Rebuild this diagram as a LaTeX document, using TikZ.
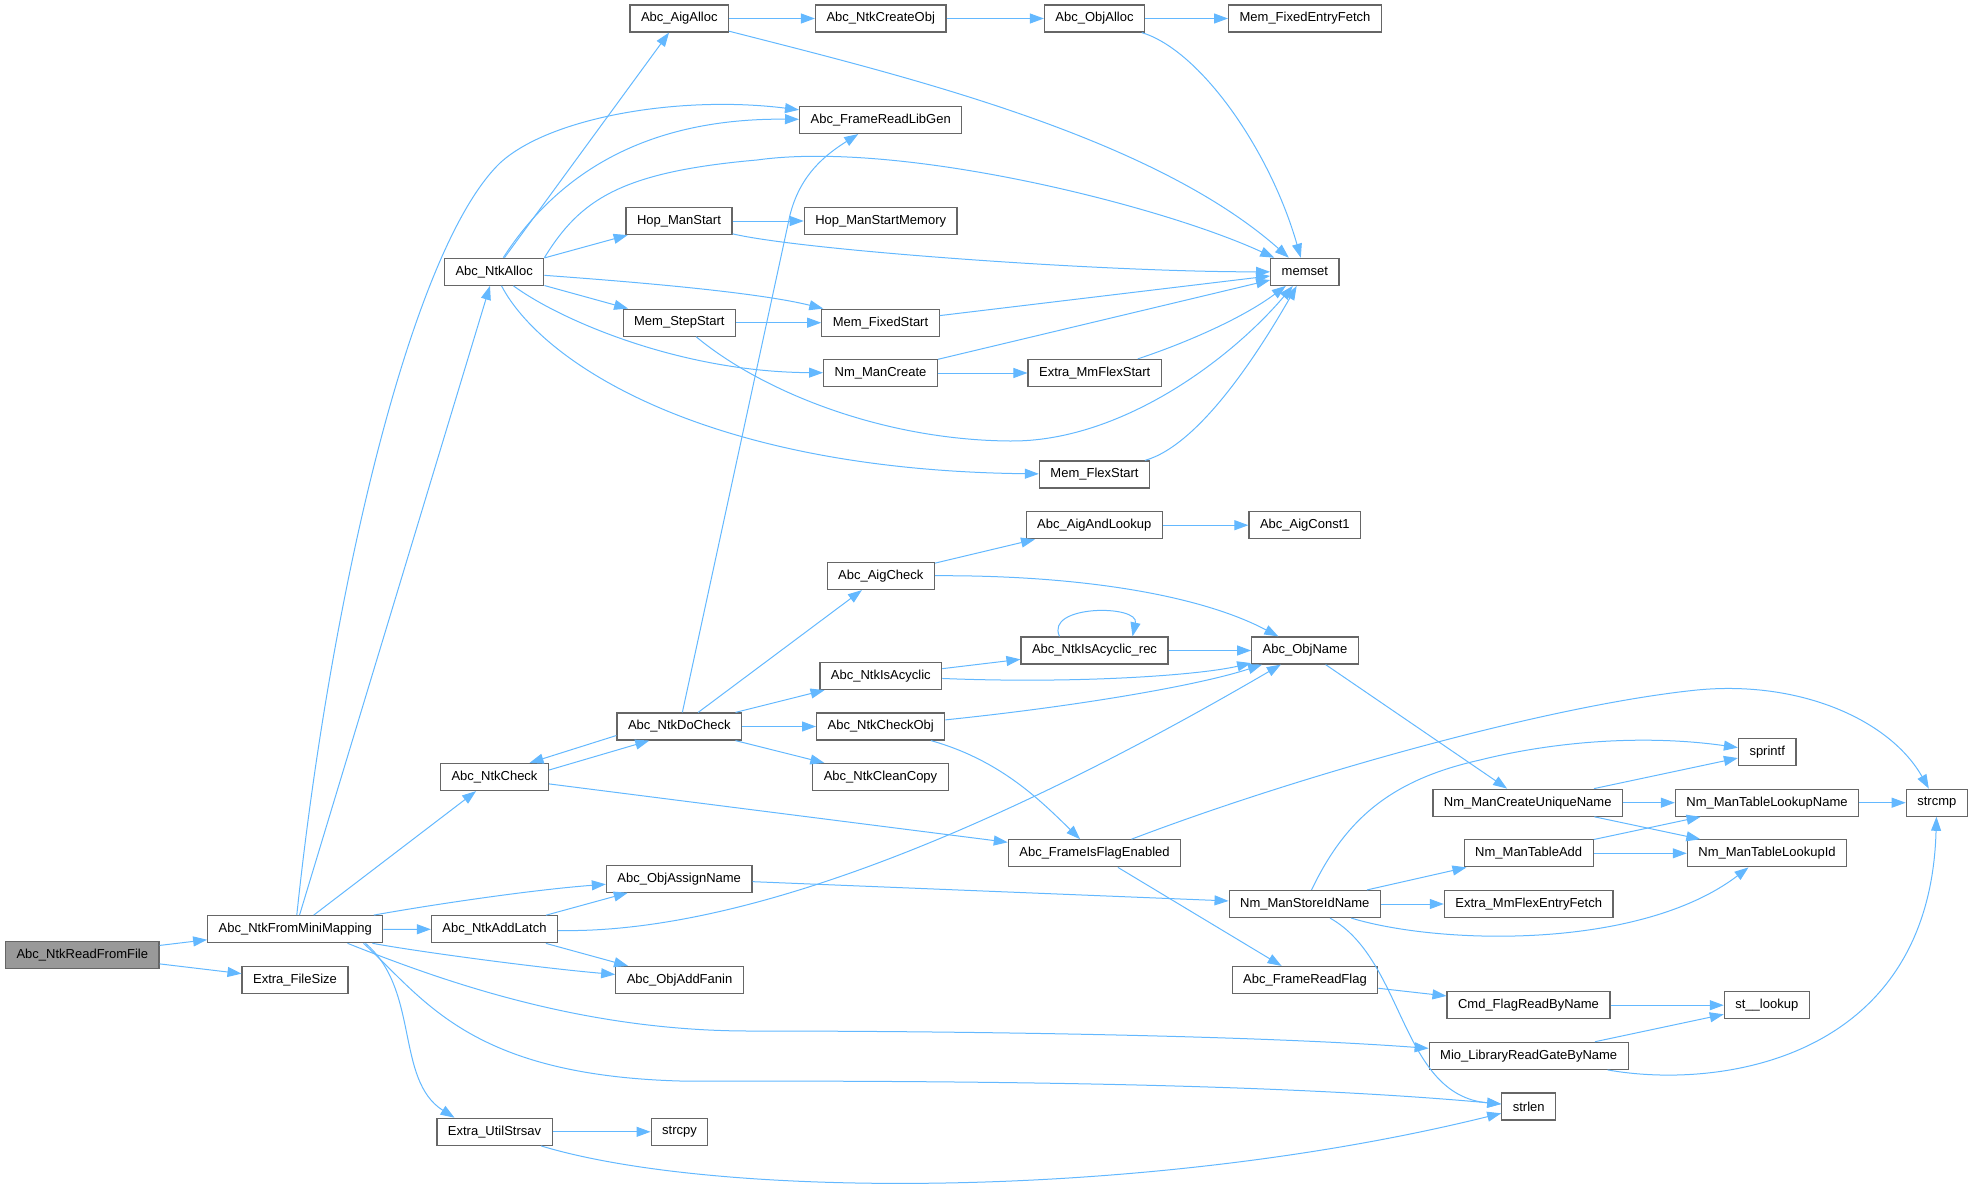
\documentclass[tikz,border=0pt]{standalone}
\usepackage{fontspec}
\setmainfont{Liberation Sans}
\usetikzlibrary{arrows.meta}
\definecolor{edgeblue}{HTML}{63B8FF}
\definecolor{boxgray}{HTML}{666666}
\definecolor{rootfill}{HTML}{999999}
\begin{document}
\begin{tikzpicture}[x=1pt,y=-1pt,
  box/.style={draw=boxgray, line width=1.2pt, fill=white, minimum height=27pt, inner xsep=11pt, inner ysep=0pt, font=\fontsize{13}{15}\selectfont, text=black},
  rootbox/.style={box, fill=rootfill},
  conn/.style={draw=edgeblue, line width=1pt, -{Triangle[length=14pt,width=10pt]}}]
\useasboundingbox (0,0) rectangle (1973,1188);
% nodes
\node[rootbox] (RF) at (82.3,954.7) {Abc\_NtkReadFromFile};
\node[box] (FM) at (295.3,929.2) {Abc\_NtkFromMiniMapping};
\node[box] (FS) at (295,980) {Extra\_FileSize};
\node[box] (AA) at (679.3,18.5) {Abc\_AigAlloc};
\node[box] (NCO) at (880.7,18.5) {Abc\_NtkCreateObj};
\node[box] (OA) at (1094.5,18.5) {Abc\_ObjAlloc};
\node[box] (MFEF) at (1305,18.5) {Mem\_FixedEntryFetch};
\node[box] (FRLG) at (880.7,120) {Abc\_FrameReadLibGen};
\node[box] (HS) at (679,221) {Hop\_ManStart};
\node[box] (HSM) at (880.7,221) {Hop\_ManStartMemory};
\node[box] (NA) at (494.2,271.7) {Abc\_NtkAlloc};
\node[box] (MS) at (1304.8,271.8) {memset};
\node[box] (MSS) at (679.3,322.7) {Mem\_StepStart};
\node[box] (MFS) at (880.5,322.7) {Mem\_FixedStart};
\node[box] (NMC) at (880.5,373) {Nm\_ManCreate};
\node[box] (EMF) at (1094.7,373) {Extra\_MmFlexStart};
\node[box] (MFX) at (1094.5,474.5) {Mem\_FlexStart};
\node[box] (AAL) at (1094.3,525.2) {Abc\_AigAndLookup};
\node[box] (AC1) at (1304.8,525.2) {Abc\_AigConst1};
\node[box] (AC) at (880.8,576) {Abc\_AigCheck};
\node[box] (IAR) at (1094.5,650.5) {Abc\_NtkIsAcyclic\_rec};
\node[box] (ON) at (1305,650.5) {Abc\_ObjName};
\node[box] (IA) at (880.8,676) {Abc\_NtkIsAcyclic};
\node[box] (DC) at (679.3,726.5) {Abc\_NtkDoCheck};
\node[box] (CO) at (880.7,726.5) {Abc\_NtkCheckObj};
\node[box] (NC) at (494.5,777) {Abc\_NtkCheck};
\node[box] (CC) at (880.5,777) {Abc\_NtkCleanCopy};
\node[box] (SP) at (1767.2,751.8) {sprintf};
\node[box] (NMCU) at (1527.7,802.7) {Nm\_ManCreateUniqueName};
\node[box] (NTLN) at (1767,802.7) {Nm\_ManTableLookupName};
\node[box] (SC) at (1936.8,802.7) {strcmp};
\node[box] (FIFE) at (1094.5,853.3) {Abc\_FrameIsFlagEnabled};
\node[box] (NTA) at (1528.7,853.3) {Nm\_ManTableAdd};
\node[box] (NTLI) at (1767,853.3) {Nm\_ManTableLookupId};
\node[box] (AN) at (679.2,878.7) {Abc\_ObjAssignName};
\node[box] (NSI) at (1304.8,904) {Nm\_ManStoreIdName};
\node[box] (EMFEF) at (1528.7,904) {Extra\_MmFlexEntryFetch};
\node[box] (AL) at (494.5,929.3) {Abc\_NtkAddLatch};
\node[box] (AF) at (679.5,980) {Abc\_ObjAddFanin};
\node[box] (FRF) at (1305,980) {Abc\_FrameReadFlag};
\node[box] (CFR) at (1528.5,1005.2) {Cmd\_FlagReadByName};
\node[box] (STL) at (1766.8,1005.2) {st\_\_lookup};
\node[box] (MIO) at (1528.7,1055.8) {Mio\_LibraryReadGateByName};
\node[box] (SL) at (1528.7,1106.5) {strlen};
\node[box] (EUS) at (494.5,1131.8) {Extra\_UtilStrsav};
\node[box] (SCP) at (679.5,1131.8) {strcpy};
% edges
\draw[conn] (RF) -- (FM);
\draw[conn] (RF) -- (FS);
\draw[conn] (FM) .. controls (330,600) and (410,250) .. (500,163) .. controls (550,117) and (680,95) .. (FRLG);
\draw[conn] (FM) -- (NA);
\draw[conn] (FM) -- (NC);
\draw[conn] (FM) .. controls (430,905) and (530,890) .. (AN);
\draw[conn] (FM) -- (AL);
\draw[conn] (FM) .. controls (420,952) and (540,968) .. (AF);
\draw[conn] ([xshift=-36pt]FM.south east) .. controls (440,980) and (580,1031) .. (750,1031) .. controls (950,1031) and (1250,1035) .. (MIO);
\draw[conn] ([xshift=-20pt]FM.south east) .. controls (425,1000) and (470,1075) .. (680,1081) .. controls (900,1081) and (1250,1081) .. (SL);
\draw[conn] ([xshift=-18pt]FM.south east) .. controls (420,990) and (395,1080) .. ([xshift=-40pt]EUS.north);
\draw[conn] (NA) -- (AA);
\draw[conn] (NA) .. controls (560,170) and (650,118) .. (FRLG);
\draw[conn] (NA.north east) .. controls (580,200) and (620,172) .. (757,160) .. controls (900,140) and (1160,205) .. (MS);
\draw[conn] (NA) -- (HS);
\draw[conn] (NA) .. controls (650,283) and (760,293) .. (MFS);
\draw[conn] (NA) -- (MSS);
\draw[conn] (NA) .. controls (560,320) and (680,372) .. (NMC);
\draw[conn] (NA) .. controls (540,360) and (700,470) .. (MFX);
\draw[conn] (AA) -- (NCO);
\draw[conn] (AA) .. controls (900,75) and (1150,135) .. (MS);
\draw[conn] (NCO) -- (OA);
\draw[conn] (OA) -- (MFEF);
\draw[conn] (OA) .. controls (1200,50) and (1270,150) .. (MS);
\draw[conn] (HS) -- (HSM);
\draw[conn] (HS) .. controls (800,250) and (1100,272) .. (MS);
\draw[conn] (MSS) -- (MFS);
\draw[conn] (MSS) .. controls (760,390) and (880,440) .. (1010,441) .. controls (1120,442) and (1230,360) .. (MS);
\draw[conn] (MFS) -- (MS);
\draw[conn] (NMC) -- (MS);
\draw[conn] (NMC) -- (EMF);
\draw[conn] (EMF) .. controls (1180,345) and (1240,320) .. (MS);
\draw[conn] (MFX) .. controls (1200,445) and (1260,350) .. (MS);
\draw[conn] ([yshift=7pt]NC.east) -- ([xshift=-30pt]DC.south);
\draw[conn] ([yshift=-9pt]DC.west) -- ([xshift=35pt]NC.north);
\draw[conn] (NC) -- (FIFE);
\draw[conn] (DC) -- (790,215) .. controls (800,175) and (825,155) .. (FRLG);
\draw[conn] (DC) -- (AC);
\draw[conn] (DC) -- (IA);
\draw[conn] (DC) -- (CO);
\draw[conn] (DC) -- (CC);
\draw[conn] (AC) -- (AAL);
\draw[conn] (AC) .. controls (1080,575) and (1200,595) .. (ON);
\draw[conn] (AAL) -- (AC1);
\draw[conn] (IA) -- (IAR);
\draw[conn] (IA) .. controls (1080,684) and (1200,675) .. (ON);
\draw[conn] ([xshift=-35pt]IAR.north) .. controls ([xshift=-50pt,yshift=32pt]IAR.north) and ([xshift=45pt,yshift=32pt]IAR.north) .. ([xshift=38pt]IAR.north);
\draw[conn] (IAR) -- (ON);
\draw[conn] (CO) .. controls (1080,706) and (1200,685) .. (ON);
\draw[conn] (CO) .. controls (1000,760) and (1040,800) .. (FIFE);
\draw[conn] (ON) -- (NMCU);
\draw[conn] (FIFE) .. controls (1300,775) and (1550,705) .. (1697,690) .. controls (1800,680) and (1890,720) .. (SC);
\draw[conn] (FIFE) -- (FRF);
\draw[conn] (AN) -- (NSI);
\draw[conn] (AL) -- (AN);
\draw[conn] (AL) .. controls (790,935) and (1100,770) .. (ON);
\draw[conn] (AL) -- (AF);
\draw[conn] (NSI) .. controls (1345,820) and (1390,780) .. (1480,760) .. controls (1560,740) and (1650,735) .. (SP);
\draw[conn] (NSI) -- (NTA);
\draw[conn] (NSI) -- (EMFEF);
\draw[conn] (NSI) .. controls (1440,945) and (1640,950) .. (NTLI);
\draw[conn] (NSI) .. controls (1405,960) and (1400,1095) .. (SL);
\draw[conn] (NMCU) -- (SP);
\draw[conn] (NMCU) -- (NTLN);
\draw[conn] (NMCU) -- (NTLI);
\draw[conn] (NTA) -- (NTLN);
\draw[conn] (NTA) -- (NTLI);
\draw[conn] (NTLN) -- (SC);
\draw[conn] (FRF) -- (CFR);
\draw[conn] (CFR) -- (STL);
\draw[conn] (MIO) -- (STL);
\draw[conn] (MIO) .. controls (1720,1090) and (1930,1060) .. (SC);
\draw[conn] (EUS) -- (SCP);
\draw[conn] (EUS) .. controls (720,1200) and (1150,1200) .. (SL);
\end{tikzpicture}
\end{document}
